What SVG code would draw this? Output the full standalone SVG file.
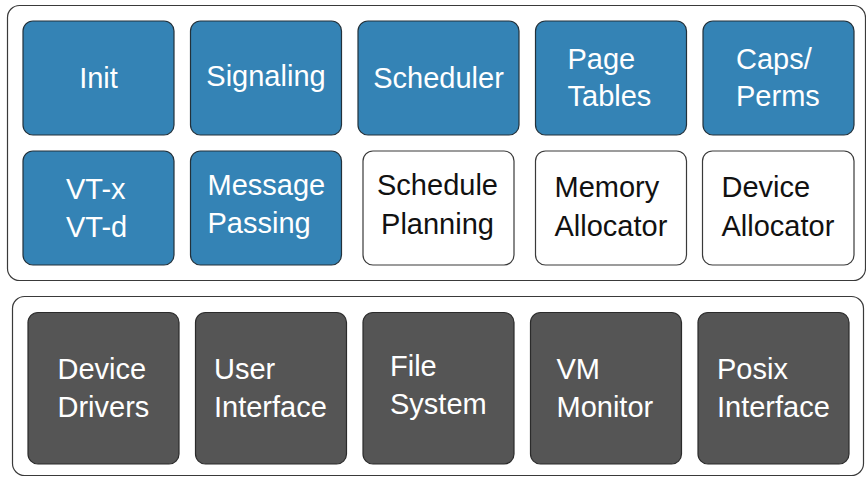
<svg xmlns="http://www.w3.org/2000/svg" width="866" height="477" viewBox="0 0 866 477">
  <style>
    .frame { fill: #ffffff; stroke: #3a3a3a; stroke-width: 1.2; }
    .blue { fill: #3483b5; stroke: #22313b; stroke-width: 1.2; }
    .plain { fill: #ffffff; stroke: #3a3a3a; stroke-width: 1.2; }
    .dark { fill: #555555; stroke: #2b2b2b; stroke-width: 1.2; }
    text { font-family: "Liberation Sans", Arial, sans-serif; font-size: 29px; }
    .lt { fill: #ffffff; }
    .dk { fill: #111111; }
    .c { text-anchor: middle; }
  </style>
  <rect width="866" height="477" fill="#ffffff"/>

  <!-- kernel layer -->
  <g id="kernel-layer">
    <rect class="frame" x="7.5" y="5.5" width="858" height="275" rx="12"/>
  </g>
  <g id="init">
    <rect class="blue" x="23" y="21" width="151" height="114" rx="10"/>
    <text class="lt c" x="98.5" y="88">Init</text>
  </g>
  <g id="signaling">
    <rect class="blue" x="190.5" y="21" width="151" height="114" rx="10"/>
    <text class="lt c" x="266" y="86">Signaling</text>
  </g>
  <g id="scheduler">
    <rect class="blue" x="358" y="21" width="161" height="114" rx="10"/>
    <text class="lt c" x="438.5" y="87.5">Scheduler</text>
  </g>
  <g id="page-tables">
    <rect class="blue" x="535.5" y="21" width="151" height="114" rx="10"/>
    <text class="lt" x="567.5" y="68.5">Page</text>
    <text class="lt" x="567.5" y="106">Tables</text>
  </g>
  <g id="caps-perms">
    <rect class="blue" x="703" y="21" width="151" height="114" rx="10"/>
    <text class="lt" x="736" y="68.5">Caps/</text>
    <text class="lt" x="736" y="106">Perms</text>
  </g>
  <g id="vt">
    <rect class="blue" x="23" y="151" width="151" height="114" rx="10"/>
    <text class="lt" x="66" y="198.5">VT-x</text>
    <text class="lt" x="66" y="236.5">VT-d</text>
  </g>
  <g id="message-passing">
    <rect class="blue" x="190.5" y="151" width="151" height="114" rx="10"/>
    <text class="lt" x="207.5" y="195">Message</text>
    <text class="lt" x="207.5" y="233">Passing</text>
  </g>
  <g id="schedule-planning">
    <rect class="plain" x="363" y="151" width="151" height="114" rx="10"/>
    <text class="dk c" x="437.5" y="195">Schedule</text>
    <text class="dk c" x="437.5" y="233.5">Planning</text>
  </g>
  <g id="memory-allocator">
    <rect class="plain" x="535.5" y="151" width="151" height="114" rx="10"/>
    <text class="dk" x="554.5" y="197">Memory</text>
    <text class="dk" x="554.5" y="236">Allocator</text>
  </g>
  <g id="device-allocator">
    <rect class="plain" x="702.5" y="151" width="151.5" height="114" rx="10"/>
    <text class="dk" x="721.5" y="197">Device</text>
    <text class="dk" x="721.5" y="236">Allocator</text>
  </g>

  <!-- user-level layer -->
  <g id="user-layer">
    <rect class="frame" x="12.5" y="296.5" width="851" height="179" rx="12"/>
  </g>
  <g id="device-drivers">
    <rect class="dark" x="28" y="312.5" width="151" height="151.5" rx="10"/>
    <text class="lt" x="57.5" y="379">Device</text>
    <text class="lt" x="57.5" y="417">Drivers</text>
  </g>
  <g id="user-interface">
    <rect class="dark" x="195.5" y="312.5" width="151" height="151.5" rx="10"/>
    <text class="lt" x="214" y="379">User</text>
    <text class="lt" x="214" y="417">Interface</text>
  </g>
  <g id="file-system">
    <rect class="dark" x="363" y="312.5" width="151" height="151.5" rx="10"/>
    <text class="lt" x="390" y="376">File</text>
    <text class="lt" x="390" y="414">System</text>
  </g>
  <g id="vm-monitor">
    <rect class="dark" x="530.5" y="312.5" width="151" height="151.5" rx="10"/>
    <text class="lt" x="556.5" y="379">VM</text>
    <text class="lt" x="556.5" y="417">Monitor</text>
  </g>
  <g id="posix-interface">
    <rect class="dark" x="698" y="312.5" width="151" height="151.5" rx="10"/>
    <text class="lt" x="717" y="379">Posix</text>
    <text class="lt" x="717" y="417">Interface</text>
  </g>

  <g id="connectors"/>
</svg>
